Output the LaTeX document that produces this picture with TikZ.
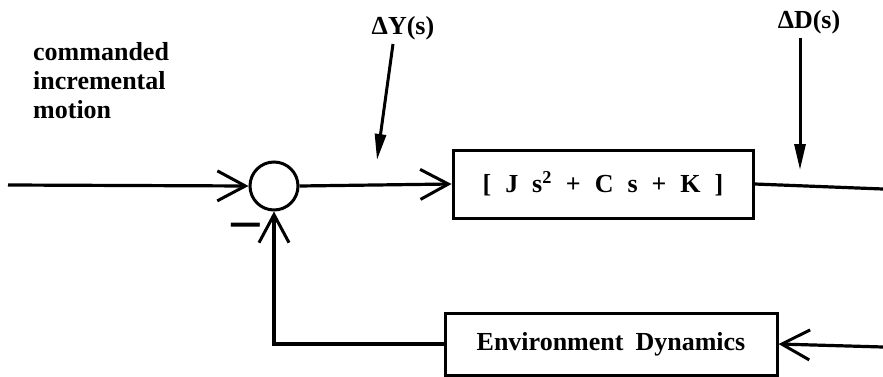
\documentclass[tikz,border=0pt]{standalone}
\usepackage{fontspec}
\setmainfont{Liberation Serif}
\usetikzlibrary{arrows.meta}
\tikzset{
  lbl/.style={font=\fontsize{26}{29}\selectfont\bfseries, inner sep=0pt},
  blk/.style={draw, line width=3pt, inner sep=0pt, font=\fontsize{26}{29}\selectfont\bfseries},
  wire/.style={line width=3.2pt},
  arr/.style={wire, -{Straight Barb[length=28pt,width=30pt,line width=3pt]}},
  farr/.style={line width=3pt, -{Triangle[length=26pt,width=11pt]}}
}
\newcommand\gp{\hspace{14pt}}
\begin{document}
\begin{tikzpicture}[x=1pt,y=-1pt]
\useasboundingbox (0,0) rectangle (883,377);
% nodes
\node[lbl, align=left, anchor=north west] (cmd) at (33,42) {commanded\\incremental\\motion};
\node[draw, circle, line width=3pt, minimum size=48pt, inner sep=0pt] (sum) at (274,186) {};
\node[blk, minimum width=300pt, minimum height=68pt] (plant) at (603,184)
  {[\gp J\gp s\textsuperscript{2}\gp +\gp C\gp s\gp +\gp K\gp ]};
\node[blk, minimum width=332pt, minimum height=62pt] (env) at (611,344)
  {Environment\hspace{12pt}Dynamics};
\node[lbl] (dY) at (403,28) {ΔY(s)};
\node[lbl] (dD) at (809,22) {ΔD(s)};
\node[lbl] (minus) at (246,231) {\scalebox{1.1}[2.2]{—}};
% free ends
\coordinate (inL) at (8,185);
\coordinate (outR) at (883,189);
\coordinate (envR) at (883,347);
\coordinate (dYt) at (377,160);
\coordinate (dDt) at (800,170);
% connectors
\draw[arr] (inL) -- (sum.west);
\draw[arr] (sum.east) -- (plant.west);
\draw[wire] (plant.east) -- (outR);
\draw[arr] (envR) -- (env.east);
\draw[arr] (env.west) -| (sum.south);
\draw[farr] ([xshift=-10pt,yshift=-4pt]dY.south) -- (dYt);
\draw[farr] ([xshift=-9pt,yshift=-4pt]dD.south) -- (dDt);
\end{tikzpicture}
\end{document}
